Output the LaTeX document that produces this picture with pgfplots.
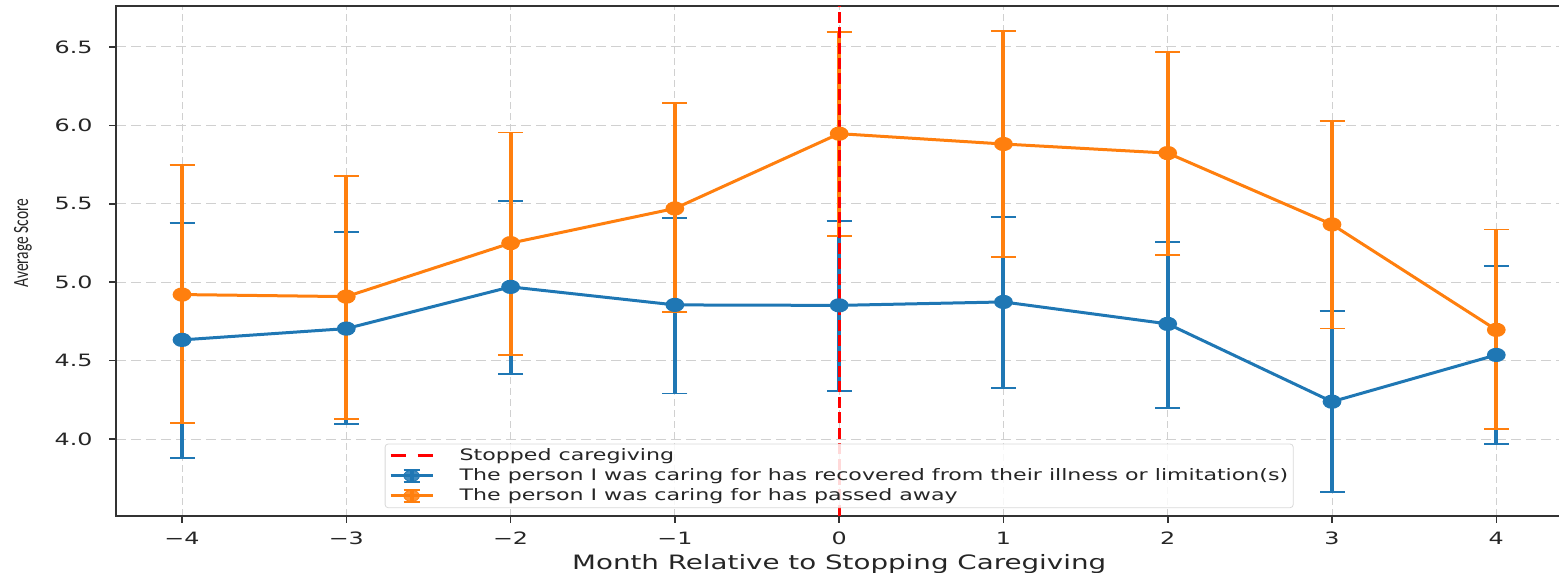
\documentclass[border=0pt]{standalone}
\usepackage{fontspec}
\setmainfont{DejaVu Sans}[FakeStretch=1.4]
\newfontfamily\carlito{Carlito}
\usepackage{graphicx}
\usepackage{pgfplots}
\pgfplotsset{compat=1.18}
\usepackage{pgfplotstable}
\definecolor{cblue}{HTML}{1F77B4}
\definecolor{corange}{HTML}{FF7F0E}
\definecolor{cred}{HTML}{FF0000}
\definecolor{cgrid}{HTML}{D0D0D0}

\pgfplotstableread{
x  y     ep    em
-4 4.632 0.745 0.755
-3 4.704 0.616 0.608
-2 4.970 0.550 0.555
-1 4.855 0.555 0.565
0  4.852 0.538 0.546
1  4.874 0.541 0.549
2  4.734 0.521 0.534
3  4.238 0.579 0.576
4  4.536 0.566 0.570
}\recovered

\pgfplotstableread{
x  y     ep    em
-4 4.921 0.826 0.817
-3 4.908 0.767 0.778
-2 5.249 0.706 0.713
-1 5.470 0.670 0.660
0  5.947 0.648 0.651
1  5.881 0.723 0.723
2  5.823 0.643 0.648
3  5.368 0.659 0.664
4  4.696 0.640 0.632
}\passed

\begin{document}
\begin{tikzpicture}
\begin{axis}[
  name=ax,
  scale only axis,
  width=722.85pt, height=254.85pt,
  xmin=-4.4, xmax=4.4,
  ymin=3.511, ymax=6.761,
  xtick={-4,-3,-2,-1,0,1,2,3,4},
  xticklabels={−4,−3,−2,−1,0,1,2,3,4},
  ytick={4.0,4.5,5.0,5.5,6.0,6.5},
  yticklabels={4.0,4.5,5.0,5.5,6.0,6.5},
  tick pos=left,
  tick align=outside,
  major tick length=3.5pt,
  every tick/.style={black!80, line width=0.8pt},
  axis line style={black!80, line width=0.8pt},
  xticklabel style={font=\fontsize{8.5}{10}\selectfont, inner sep=0pt, anchor=north, yshift=-4.4pt, text=black!85},
  yticklabel style={font=\fontsize{8.5}{10}\selectfont, inner sep=0pt, anchor=east, xshift=-8.15pt, text=black!85},
  xmajorgrids, ymajorgrids,
  x grid style={cgrid, line width=0.5pt, dash pattern=on 3.5pt off 2pt},
  y grid style={cgrid, line width=0.5pt, dash pattern=on 5pt off 2.5pt},
  xlabel={Month Relative to Stopping Caregiving},
  xlabel style={font=\fontsize{9.9}{11}\selectfont, at={(axis description cs:0.5,-0.1046)}, anchor=base, inner sep=0pt, text=black!85},
  ylabel={\carlito\fontsize{10.85}{12}\selectfont\scalebox{0.714}[1]{Average Score}},
  ylabel style={at={(axis description cs:-0.0645,0.535)}, anchor=center, rotate=0, inner sep=0pt, text=black!85},
  legend style={at={(axis description cs:0.5,0.015)}, anchor=south,
    font=\fontsize{7.9}{9}\selectfont, draw=black!15, rounded corners=1.5pt,
    fill=white, fill opacity=0.85, text opacity=1, inner xsep=2pt, inner ysep=1.5pt,
    nodes={inner sep=0.5pt, text height=6pt, text depth=1.8pt, text=black!85},
    row sep=1.2pt},
  legend cell align=left,
]
% error bars: blue then orange
\addplot[forget plot, draw=none, mark=none,
  error bars/.cd, y dir=both, y explicit,
  error bar style={draw=cblue, line width=2pt, solid},
  error mark options={draw=cblue, rotate=90, mark size=6.25pt, line width=0.9pt}]
  table[x=x, y=y, y error plus=ep, y error minus=em] {\recovered};
\addplot[forget plot, draw=none, mark=none,
  error bars/.cd, y dir=both, y explicit,
  error bar style={draw=corange, line width=2pt, solid},
  error mark options={draw=corange, rotate=90, mark size=6.25pt, line width=0.9pt}]
  table[x=x, y=y, y error plus=ep, y error minus=em] {\passed};
% vertical line
\addplot[forget plot, cred, line width=1.5pt, dash pattern=on 5.5pt off 2.2pt] coordinates {(0,3.511) (0,6.761)};
% lines with markers
\addplot[forget plot, cblue, line width=1.5pt, mark=*, mark options={solid, fill=cblue, draw=cblue, xscale=1.4}, mark size=2.8pt]
  table[x=x, y=y] {\recovered};
\addplot[forget plot, corange, line width=1.5pt, mark=*, mark options={solid, fill=corange, draw=corange, xscale=1.4}, mark size=2.8pt]
  table[x=x, y=y] {\passed};
% legend
\addlegendimage{legend image code/.code={
  \draw[cred, line width=1.5pt, dash pattern=on 7.5pt off 6pt] (0pt,0pt) -- (21pt,0pt);
  \path[draw=none, fill=none] (0pt,-3pt) rectangle (34pt,3pt);}}
\addlegendentry{Stopped caregiving}
\addlegendimage{legend image code/.code={
  \draw[cblue, line width=1.5pt] (0pt,0pt) -- (21pt,0pt);
  \draw[cblue, line width=2pt] (10.5pt,-3pt) -- (10.5pt,3pt);
  \draw[cblue, line width=0.9pt] (6.5pt,3pt) -- (14.5pt,3pt) (6.5pt,-3pt) -- (14.5pt,-3pt);
  \fill[cblue] (10.5pt,0pt) ellipse (3.9pt and 2.8pt);
  \path[draw=none, fill=none] (0pt,-3pt) rectangle (34pt,3pt);}}
\addlegendentry{The person I was caring for has recovered from their illness or limitation(s)\hspace{3.5pt}}
\addlegendimage{legend image code/.code={
  \draw[corange, line width=1.5pt] (0pt,0pt) -- (21pt,0pt);
  \draw[corange, line width=2pt] (10.5pt,-3pt) -- (10.5pt,3pt);
  \draw[corange, line width=0.9pt] (6.5pt,3pt) -- (14.5pt,3pt) (6.5pt,-3pt) -- (14.5pt,-3pt);
  \fill[corange] (10.5pt,0pt) ellipse (3.9pt and 2.8pt);
  \path[draw=none, fill=none] (0pt,-3pt) rectangle (34pt,3pt);}}
\addlegendentry{The person I was caring for has passed away}
\end{axis}
\pgfresetboundingbox
\path ([xshift=-58.15pt,yshift=-28.15pt]ax.south west) rectangle ([xshift=-1.5pt,yshift=3pt]ax.north east);
\end{tikzpicture}
\end{document}
